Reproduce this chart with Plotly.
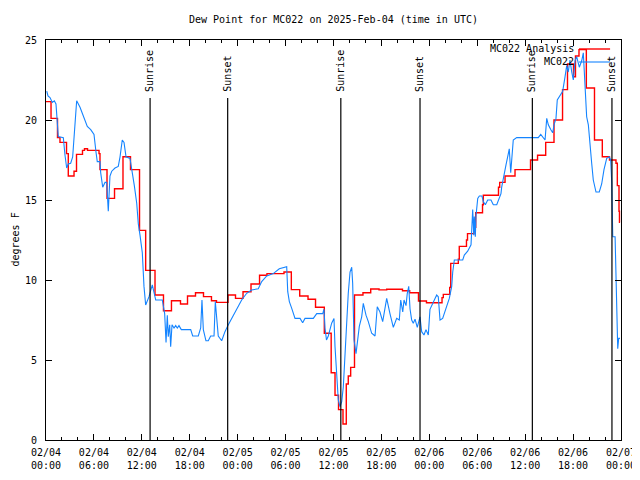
import pandas as pd
import plotly.graph_objects as go

START = pd.Timestamp("2025-02-04 00:00")

# MC022 Analysis (step series): hours since 02/04 00:00 UTC, dew point (F)
analysis_hours = [0.00, 0.63, 1.44, 1.75, 2.57, 2.79, 3.51, 3.82, 4.57, 4.82, 5.20, 6.64, 6.76,
                  7.64, 8.58, 9.64, 10.58, 11.71, 12.48, 13.65, 14.71, 15.71, 16.84, 17.72,
                  18.72, 19.72, 20.72, 21.35, 22.79, 23.73, 24.67, 25.67, 26.74, 27.67, 29.80,
                  30.72, 31.77, 32.81, 33.75, 34.85, 35.71, 36.19, 36.63, 37.19, 37.60, 37.85,
                  38.15, 38.63, 39.69, 40.66, 41.70, 42.66, 44.64, 45.54, 46.64, 47.64, 49.59,
                  49.75, 50.55, 50.68, 51.63, 51.75, 52.65, 52.78, 53.59, 53.81, 54.66, 54.76,
                  56.66, 56.81, 57.48, 58.73, 60.67, 61.55, 62.57, 63.61, 64.68, 65.30, 66.05,
                  66.30, 66.74, 67.66, 68.68, 69.66, 70.56, 71.37, 71.54, 71.75, 71.81, 71.87]
analysis_dewpt = [21.15, 20.1, 18.9, 18.6, 17.9, 16.5, 16.8, 17.85, 18.1, 18.2, 18.1, 17.9, 16.9,
                  15.1, 15.7, 17.7, 16.9, 13.1, 10.6, 9.06, 8.08, 8.7, 8.5, 9.0,
                  9.2, 8.96, 8.7, 8.6, 9.06, 8.85, 9.27, 9.75, 10.3, 10.4, 10.5,
                  9.4, 9.0, 8.8, 8.3, 6.67, 4.2, 2.8, 1.9, 1.0, 3.5, 4.0,
                  4.54, 9.06, 9.2, 9.44, 9.38, 9.42, 9.33, 9.2, 8.69, 8.58, 8.9,
                  9.1, 9.54, 11.04, 11.3, 12.1, 12.5, 12.9, 13.3, 14.2, 14.7, 15.3,
                  15.8, 16.1, 16.5, 16.9, 17.5, 17.8, 18.6, 20.0, 21.9, 23.5, 22.7,
                  24.0, 24.4, 22.0, 18.75, 17.7, 17.5, 17.3, 15.9, 14.3, 13.6, 13.6]

# MC022 observations
obs_hours = [0.09, 0.25, 0.50, 0.79, 1.04, 1.25, 1.54, 2.17, 2.38, 2.59, 2.79, 3.09, 3.34, 3.51,
             3.84, 4.26, 4.67, 5.17, 5.60, 6.01, 6.26, 6.42, 6.76, 6.85, 7.10, 7.39, 7.60, 7.73,
             7.80, 8.01, 8.23, 8.64, 9.05, 9.27, 9.55, 9.77, 10.02, 10.52, 10.73, 11.06, 11.36,
             11.56, 11.77, 12.06, 12.27, 12.48, 12.90, 13.31, 13.74, 14.56, 14.86, 15.03, 15.19,
             15.31, 15.49, 15.61, 15.78, 16.03, 16.24, 16.44, 16.65, 16.94, 18.12, 18.37, 19.07,
             19.37, 19.53, 19.70, 20.03, 20.32, 20.62, 21.04, 21.20, 21.37, 21.57, 22.00, 22.41,
             22.83, 23.25, 23.88, 24.50, 25.13, 25.75, 26.58, 27.01, 27.64, 28.46, 29.21, 29.93,
             30.14, 30.27, 30.47, 30.77, 31.18, 31.81, 32.14, 32.43, 33.47, 33.90, 34.65, 34.81,
             34.94, 35.12, 35.35, 35.77, 36.06, 36.19, 36.40, 36.60, 36.81, 37.03, 37.23, 37.44,
             37.65, 37.85, 38.07, 38.28, 38.40, 38.57, 38.82, 38.98, 39.23, 39.53, 39.73, 40.07,
             40.36, 40.78, 41.20, 41.48, 41.82, 42.16, 42.32, 42.66, 43.07, 43.49, 43.91, 44.24,
             44.42, 44.67, 44.83, 45.08, 45.24, 45.42, 45.58, 45.79, 45.99, 46.21, 46.49, 46.83,
             47.04, 47.33, 47.58, 47.87, 48.08, 48.50, 48.92, 49.12, 49.25, 49.34, 49.67, 50.09,
             50.50, 50.80, 50.93, 51.13, 52.18, 52.38, 52.80, 53.22, 53.34, 53.43, 53.56, 53.63,
             53.76, 53.84, 54.06, 54.26, 54.59, 54.76, 55.01, 55.31, 55.72, 56.01, 56.44, 56.76,
             56.97, 57.06, 57.35, 57.60, 57.89, 58.01, 58.19, 58.31, 58.51, 58.94, 61.64, 61.95,
             62.27, 62.49, 62.70, 62.90, 63.20, 63.45, 63.61, 63.86, 64.02, 64.36, 64.70, 64.99,
             65.20, 65.40, 65.61, 65.83, 66.03, 66.24, 66.45, 66.78, 67.08, 67.28, 67.49, 67.70,
             67.91, 68.12, 68.33, 68.53, 68.87, 69.28, 69.58, 69.87, 70.21, 70.54, 70.71, 70.84,
             70.92, 70.97, 71.26, 71.38, 71.54, 71.59, 71.71, 71.87]
obs_dewpt = [21.8, 21.5, 21.4, 21.1, 21.2, 21.0, 18.96, 18.9, 17.8, 17.0, 17.25, 17.3, 17.7, 18.96,
             21.2, 20.8, 20.3, 19.6, 19.4, 19.1, 18.0, 17.4, 17.4, 16.7, 15.8, 16.1, 16.1, 14.8,
             14.3, 16.5, 16.8, 17.0, 17.1, 17.7, 18.75, 18.6, 17.7, 17.6, 16.8, 15.9, 14.8,
             13.5, 12.8, 11.7, 9.6, 8.44, 8.96, 9.7, 8.75, 8.75, 7.9, 6.1, 7.8,
             6.46, 7.2, 5.83, 7.2, 7.0, 7.15, 7.0, 7.15, 6.9, 6.9, 6.5, 6.5,
             7.0, 8.75, 6.9, 6.2, 6.2, 6.5, 6.5, 8.65, 7.7, 6.5, 6.2, 6.77,
             7.2, 7.6, 8.23, 8.75, 9.17, 9.38, 9.45, 9.9, 10.25, 10.4, 10.7, 10.83,
             10.83, 9.27, 8.65, 8.23, 7.6, 7.6, 7.33, 7.6, 7.6, 7.9, 7.9, 8.17,
             7.0, 6.25, 6.5, 7.3, 7.6, 5.83, 3.75, 2.5, 2.08, 2.4, 3.33, 5.6,
             7.5, 9.17, 10.5, 10.8, 9.8, 6.25, 5.4, 6.25, 7.1, 7.7, 8.54, 7.8,
             7.4, 6.67, 6.5, 8.33, 8.0, 7.4, 7.9, 8.85, 7.9, 7.04, 7.6, 7.5,
             8.75, 8.0, 8.75, 8.4, 9.17, 9.6, 8.2, 7.5, 7.3, 7.55, 7.04, 7.7,
             6.77, 6.56, 6.9, 6.56, 8.17, 8.65, 9.06, 8.96, 7.6, 7.5, 7.6, 8.23,
             8.85, 9.58, 10.5, 11.25, 11.25, 11.56, 11.8, 12.2, 13.85, 14.4, 12.8, 13.96,
             12.7, 14.0, 15.1, 15.25, 15.25, 14.9, 14.7, 15.0, 15.0, 14.7, 14.7, 15.1,
             15.4, 15.8, 16.67, 17.2, 17.9, 18.2, 16.7, 17.6, 18.75, 18.9, 18.9, 19.1,
             18.9, 18.75, 20.1, 19.7, 19.4, 19.2, 19.7, 20.1, 21.25, 21.56, 21.8, 22.7,
             23.4, 23.0, 23.75, 23.0, 22.5, 23.7, 23.96, 23.3, 23.7, 24.2, 21.8, 20.2,
             19.7, 18.3, 17.3, 16.25, 15.5, 15.5, 16.0, 16.9, 17.6, 17.7, 17.5, 16.1,
             13.5, 12.7, 12.7, 10.0, 7.5, 5.7, 6.35, 6.35]

sun_times = ["2025-02-04 13:02", "2025-02-04 22:45", "2025-02-05 12:55",
             "2025-02-05 22:50", "2025-02-06 12:54", "2025-02-06 22:52"]
sun_labels = ["Sunrise", "Sunset", "Sunrise", "Sunset", "Sunrise", "Sunset"]

title_text = "Dew Point for MC022 on 2025-Feb-04 (time in UTC)"
series_names = ["MC022 Analysis", "MC022"]
series_colors = ["#ff0000", "#1484ff"]

FONT = "DejaVu Sans Mono"
W, H = 632, 472


def to_time(hours):
    return START + pd.to_timedelta(pd.Series(hours), unit="h")


fig = go.Figure()
fig.add_trace(go.Scatter(x=to_time(analysis_hours), y=analysis_dewpt, mode="lines",
                         line=dict(color=series_colors[0], width=1.4, shape="hv"),
                         name=series_names[0], showlegend=False))
fig.add_trace(go.Scatter(x=to_time(obs_hours), y=obs_dewpt, mode="lines",
                         line=dict(color=series_colors[1], width=1.1),
                         name=series_names[1], showlegend=False))

# sunrise / sunset markers
for t, lab in zip(sun_times, sun_labels):
    fig.add_shape(type="line", xref="x", yref="paper", x0=t, x1=t, y0=0, y1=0.855,
                  line=dict(color="black", width=1.2))
    fig.add_annotation(x=t, xref="x", y=0.8675, yref="paper", text=lab, textangle=-90,
                       showarrow=False, xanchor="center", yanchor="bottom",
                       font=dict(family=FONT, size=10, color="black"), borderpad=0)

# gnuplot-style key
for i, (name, col) in enumerate(zip(series_names, series_colors)):
    yk = 0.9775 - i * 0.0325
    fig.add_annotation(x=0.92, xref="paper", y=yk, yref="paper", text=name, showarrow=False,
                       xanchor="right", yanchor="middle",
                       font=dict(family=FONT, size=10, color="black"), borderpad=0)
    fig.add_shape(type="line", xref="paper", yref="paper", x0=0.927, x1=0.981, y0=yk, y1=yk,
                  line=dict(color=col, width=1.4 if i == 0 else 1.1))

fig.add_annotation(x=-38 / 575, xref="paper", y=0.5, yref="paper", text="degrees F",
                   textangle=-90, showarrow=False, xanchor="left", yanchor="middle",
                   font=dict(family=FONT, size=10, color="black"), borderpad=0)

fig.update_layout(
    width=W, height=H,
    margin=dict(l=38, r=19, t=32, b=40),
    paper_bgcolor="white", plot_bgcolor="white",
    font=dict(family=FONT, size=10, color="black"),
    title=dict(text=title_text, x=0.5, xref="paper", y=1 - 11 / H, yanchor="middle",
               font=dict(family=FONT, size=10, color="black")),
    showlegend=False,
)
fig.update_xaxes(type="date", range=["2025-02-04 00:00", "2025-02-07 00:00"],
                 tick0="2025-02-04 00:00", dtick=6 * 3600 * 1000,
                 tickformat="%m/%d<br>%H:%M", ticks="inside", ticklen=6, tickcolor="black",
                 minor=dict(dtick=2 * 3600 * 1000, ticks="inside", ticklen=3, tickcolor="black"),
                 showline=True, linecolor="black", linewidth=1, mirror="allticks",
                 showgrid=False, zeroline=False, tickfont=dict(family=FONT, size=10),
                 ticklabelstandoff=3, automargin=False)
fig.update_yaxes(range=[0, 25], dtick=5, ticks="inside", ticklen=6, tickcolor="black",
                 showline=True, linecolor="black", linewidth=1, mirror="allticks",
                 showgrid=False, zeroline=False, tickfont=dict(family=FONT, size=10),
                 ticklabelstandoff=6, automargin=False)

fig.write_html("out.html")
